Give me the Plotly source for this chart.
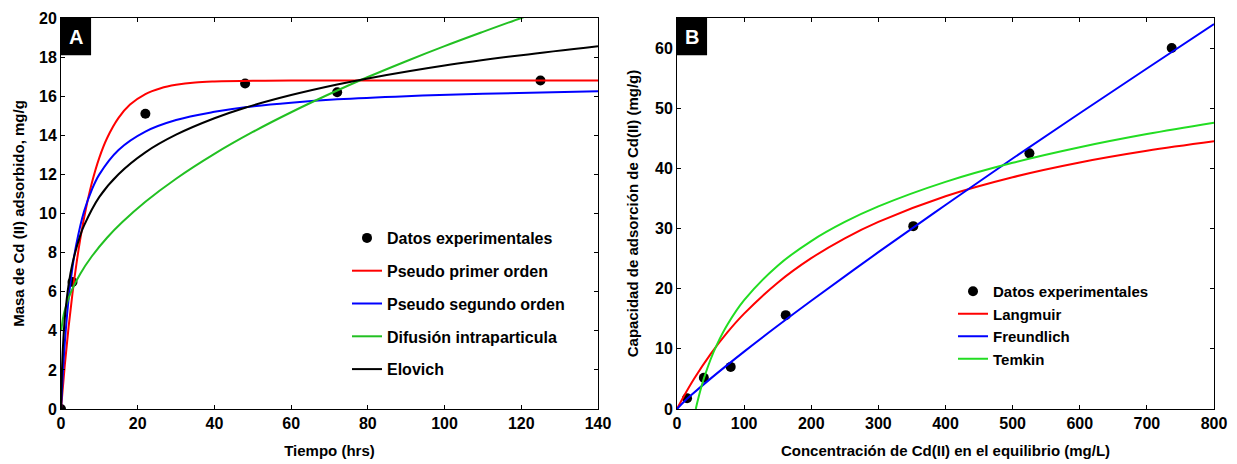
import plotly.graph_objects as go

# ---------------- Panel A data (kinetics) ----------------
t_exp = [0, 3, 22, 48, 72, 125]
q_exp = [0, 6.5, 15.1, 16.65, 16.2, 16.8]

t_pfo = [0, 1, 2, 3, 4, 5, 6, 8, 10, 12, 15, 18, 22, 26, 30, 35, 40, 50, 60, 80, 100, 140]
q_pfo = [0, 2.27, 4.23, 5.93, 7.39, 8.66, 9.76, 11.53, 12.86, 13.85, 14.89, 15.57, 16.11,
         16.41, 16.58, 16.70, 16.75, 16.79, 16.8, 16.8, 16.8, 16.8]

t_pso = [0, 0.5, 1, 2, 3, 4, 6, 8, 10, 15, 22, 30, 40, 48, 60, 72, 90, 110, 140]
q_pso = [0, 1.89, 3.41, 5.67, 7.26, 8.43, 10.1, 11.2, 12.0, 13.25, 14.19, 14.78, 15.2,
         15.44, 15.67, 15.84, 16.0, 16.12, 16.25]

t_dif = [0.1, 0.5, 1, 2, 3, 5, 8, 12, 16, 22, 30, 40, 50, 60, 72, 80, 90, 100, 110, 120, 125]
q_dif = [4.03, 4.62, 5.06, 5.68, 6.16, 6.91, 7.8, 8.76, 9.56, 10.6, 11.78, 13.05, 14.17,
         15.18, 16.29, 16.98, 17.79, 18.56, 19.29, 20.0, 20.33]

t_elo = [0, 0.25, 0.5, 1, 2, 3, 5, 6, 10, 15, 22, 30, 40, 48, 60, 72, 80, 100, 120, 140]
q_elo = [0, 1.98, 3.16, 4.66, 6.38, 7.46, 8.87, 9.38, 10.85, 12.01, 13.13, 14.03, 14.87,
         15.41, 16.06, 16.6, 16.91, 17.57, 18.1, 18.56]

# ---------------- Panel B data (isotherms) ----------------
c_exp = [15, 40, 80, 162, 352, 525, 737]
qe_exp = [1.8, 5.2, 7.0, 15.6, 30.4, 42.5, 60.0]

c_lang = [0, 10, 25, 50, 75, 100, 150, 200, 250, 300, 400, 500, 600, 700, 800]
q_lang = [0, 2.08, 4.94, 9.13, 12.73, 15.85, 21.0, 25.07, 28.38, 31.11, 35.37, 38.53,
          40.98, 42.92, 44.5]

c_freu = [0, 10, 20, 50, 100, 150, 200, 300, 400, 500, 600, 700, 800]
q_freu = [0, 1.16, 2.19, 5.05, 9.54, 13.83, 17.99, 26.07, 33.91, 41.65, 49.17, 56.6, 64.0]

c_temk = [28, 30, 35, 40, 50, 60, 75, 100, 150, 200, 250, 300, 400, 500, 600, 700, 800]
q_temk = [0, 0.98, 3.17, 5.06, 8.23, 10.82, 13.99, 18.08, 23.83, 27.92, 31.09, 33.68,
          37.76, 40.93, 43.52, 45.71, 47.6]

RED = "#ff0000"
BLUE = "#0000ff"
GREENA = "#22c022"
GREENB = "#22dd22"
FONT = "Liberation Sans"

fig = go.Figure()

# Panel A traces
fig.add_trace(go.Scatter(x=t_exp, y=q_exp, mode="markers", name="Datos experimentales",
                         marker=dict(color="black", size=10), xaxis="x", yaxis="y",
                         legend="legend", legendgroup="a1"))
fig.add_trace(go.Scatter(x=t_pfo, y=q_pfo, mode="lines", name="Pseudo primer orden",
                         line=dict(color=RED, width=2, shape="spline"), xaxis="x", yaxis="y",
                         legend="legend", legendgroup="a2"))
fig.add_trace(go.Scatter(x=t_pso, y=q_pso, mode="lines", name="Pseudo segundo orden",
                         line=dict(color=BLUE, width=2, shape="spline"), xaxis="x", yaxis="y",
                         legend="legend", legendgroup="a3"))
fig.add_trace(go.Scatter(x=t_dif, y=q_dif, mode="lines", name="Difusión intraparticula",
                         line=dict(color=GREENA, width=2, shape="spline"), xaxis="x", yaxis="y",
                         legend="legend", legendgroup="a4"))
fig.add_trace(go.Scatter(x=t_elo, y=q_elo, mode="lines", name="Elovich",
                         line=dict(color="black", width=2, shape="spline"), xaxis="x", yaxis="y",
                         legend="legend", legendgroup="a5"))

# Panel B traces
fig.add_trace(go.Scatter(x=c_exp, y=qe_exp, mode="markers", name="Datos experimentales",
                         marker=dict(color="black", size=10), xaxis="x2", yaxis="y2",
                         legend="legend2"))
fig.add_trace(go.Scatter(x=c_lang, y=q_lang, mode="lines", name="Langmuir",
                         line=dict(color=RED, width=2, shape="spline"), xaxis="x2", yaxis="y2",
                         legend="legend2"))
fig.add_trace(go.Scatter(x=c_freu, y=q_freu, mode="lines", name="Freundlich",
                         line=dict(color=BLUE, width=2, shape="spline"), xaxis="x2", yaxis="y2",
                         legend="legend2"))
fig.add_trace(go.Scatter(x=c_temk, y=q_temk, mode="lines", name="Temkin",
                         line=dict(color=GREENB, width=2, shape="spline"), xaxis="x2", yaxis="y2",
                         legend="legend2"))

W, H = 1237, 464
axbase = dict(showline=True, linecolor="black", linewidth=1, mirror="ticks",
              ticks="inside", ticklen=4, tickcolor="black", showgrid=False, zeroline=False,
              automargin=False,
              tickfont=dict(family=FONT, size=16, color="black", weight="bold"),
              title_font=dict(family=FONT, size=15, color="black", weight="bold"))

yd = [1 - 409 / H, 1 - 18 / H]
fig.update_layout(
    width=W, height=H, margin=dict(l=0, r=0, t=0, b=0, autoexpand=False),
    paper_bgcolor="white", plot_bgcolor="white",
    font=dict(family=FONT, color="black"),
    xaxis=dict(axbase, domain=[61 / W, 598 / W], range=[0, 140], dtick=20,
               title=dict(text="Tiempo (hrs)", standoff=14), anchor="y"),
    yaxis=dict(axbase, domain=yd, range=[0, 20], dtick=2,
               title=dict(text="Masa de Cd (II) adsorbido, mg/g", standoff=10), anchor="x"),
    xaxis2=dict(axbase, domain=[677 / W, 1214 / W], range=[0, 800], dtick=100,
                title=dict(text="Concentración de Cd(II) en el equilibrio (mg/L)", standoff=14),
                anchor="y2"),
    yaxis2=dict(axbase, domain=yd, range=[0, 65], tickvals=[0, 10, 20, 30, 40, 50, 60],
                title=dict(text="Capacidad de adsorción de Cd(II) (mg/g)", standoff=12),
                anchor="x2"),
    legend=dict(x=347 / W, y=1 - 221 / H, xanchor="left", yanchor="top",
                bgcolor="rgba(0,0,0,0)", tracegroupgap=9,
                font=dict(family=FONT, size=16, color="black", weight="bold")),
    legend2=dict(x=953 / W, y=1 - 275 / H, xanchor="left", yanchor="top",
                 bgcolor="rgba(0,0,0,0)", tracegroupgap=0,
                 font=dict(family=FONT, size=15, color="black", weight="bold")),
    showlegend=True,
)

# panel letter boxes
for xd, letter in (("x domain", "A"), ("x2 domain", "B")):
    yr = "y domain" if letter == "A" else "y2 domain"
    fig.add_shape(type="rect", xref=xd, yref=yr, x0=0, x1=0.056, y0=0.905, y1=1,
                  fillcolor="black", line=dict(width=0))
    fig.add_annotation(xref=xd, yref=yr, x=0.028, y=0.9525, text=letter, showarrow=False,
                       font=dict(family=FONT, size=20, color="white", weight="bold"),
                       xanchor="center", yanchor="middle")

fig.write_html("out.html")
